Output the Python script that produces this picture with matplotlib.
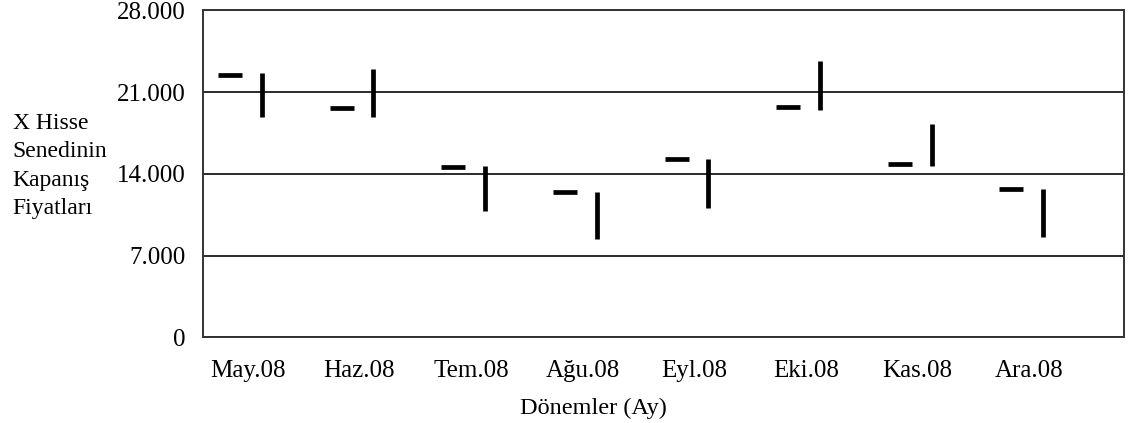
import matplotlib
matplotlib.use("Agg")
import matplotlib.pyplot as plt
import numpy as np

plt.rcParams["font.family"] = ["Liberation Serif", "DejaVu Serif"]

# Monthly periods and prices
months = ["May.08", "Haz.08", "Tem.08", "Ağu.08", "Eyl.08", "Eki.08", "Kas.08", "Ara.08"]
close_marks = [22500, 19600, 14600, 12400, 15300, 19700, 14800, 12700]
range_low = [18900, 18900, 10800, 8400, 11100, 19500, 14700, 8600]
range_high = [22600, 23000, 14700, 12400, 15300, 23700, 18300, 12700]

y_ticks = [0, 7000, 14000, 21000, 28000]
y_tick_labels = ["0", "7.000", "14.000", "21.000", "28.000"]

fig = plt.figure(figsize=(11.36, 4.23), dpi=100)
ax = fig.add_axes([0.17843, 0.20260, 0.81127, 0.77305])

x = np.arange(len(months))
dash_offset = -0.157
dash_half = 0.107
bar_offset = 0.127

ax.hlines(close_marks, x + dash_offset - dash_half, x + dash_offset + dash_half,
          colors="black", linewidth=3.4, zorder=3)
ax.vlines(x + bar_offset, range_low, range_high,
          colors="black", linewidth=3.4, zorder=3)

ax.set_xlim(-0.402, 7.854)
ax.set_ylim(0, 28000)
ax.set_yticks(y_ticks)
ax.set_yticklabels(y_tick_labels)
ax.set_xticks(x)
ax.set_xticklabels(months)
ax.tick_params(axis="y", length=0, pad=12.5, labelsize=18)
ax.tick_params(axis="x", length=0, pad=16, labelsize=18)

ax.yaxis.grid(True, color="#1a1a1a", linewidth=1.3)
ax.set_axisbelow(True)
for s in ax.spines.values():
    s.set_color("#333333")
    s.set_linewidth(1.4)

fig.text(12.7 / 1136, 1 - 166 / 423, "X Hisse\nSenedinin\nKapanış\nFiyatları",
         ha="left", va="center", linespacing=1.47, fontsize=17)
fig.text(593 / 1136, 1 - 408 / 423, "Dönemler (Ay)",
         ha="center", va="center", fontsize=17.5)

fig.savefig("out.png", dpi=100)
